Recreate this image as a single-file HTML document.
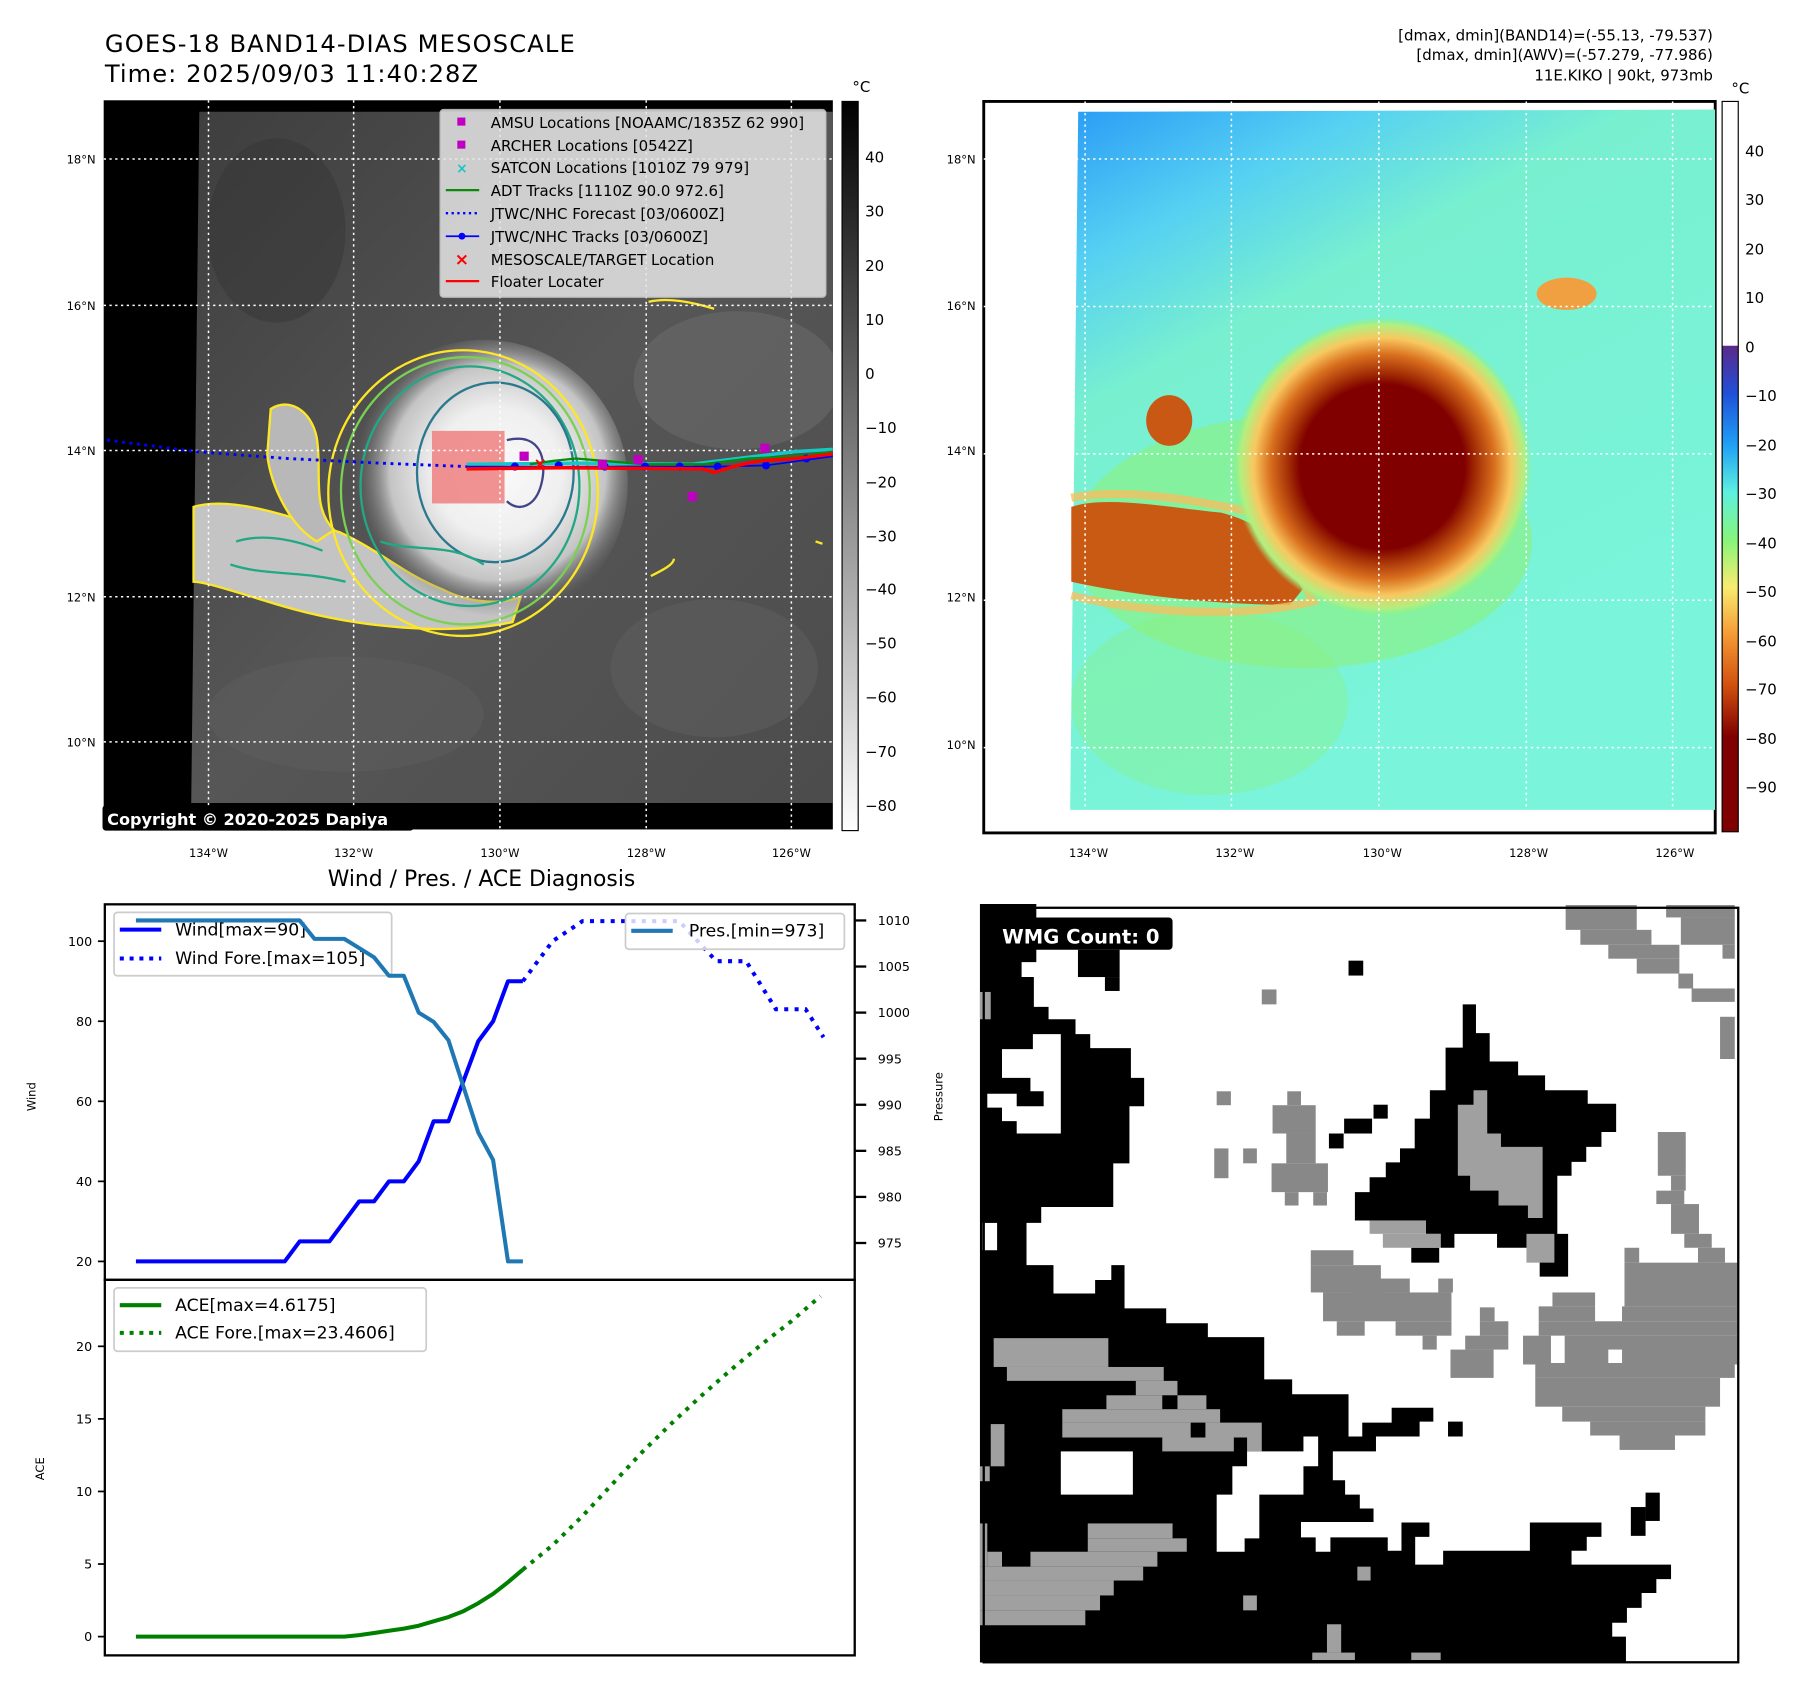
<!DOCTYPE html>
<html><head><meta charset="utf-8"><style>
html,body{margin:0;padding:0;background:#fff;}
svg{display:block;font-family:"DejaVu Sans","Liberation Sans",sans-serif;}
</style></head><body>
<svg id="root" width="1797" height="1690" viewBox="0 0 1560 1467" xmlns="http://www.w3.org/2000/svg">
<defs>
 <linearGradient id="gcb" x1="0" y1="0" x2="0" y2="1"><stop offset="0" stop-color="#000"/><stop offset="1" stop-color="#fff"/></linearGradient>
 <linearGradient id="ccb" x1="0" y1="0" x2="0" y2="1">
  <stop offset="0" stop-color="#fff"/><stop offset="0.334" stop-color="#fff"/>
  <stop offset="0.335" stop-color="#5a2a8a"/><stop offset="0.40" stop-color="#2050d8"/>
  <stop offset="0.47" stop-color="#1fa0f5"/><stop offset="0.535" stop-color="#5ef0e0"/>
  <stop offset="0.60" stop-color="#86f57a"/><stop offset="0.665" stop-color="#f8ec70"/>
  <stop offset="0.73" stop-color="#f59a35"/><stop offset="0.80" stop-color="#d0500e"/>
  <stop offset="0.87" stop-color="#800000"/><stop offset="1" stop-color="#800000"/>
 </linearGradient>
 <radialGradient id="storm" cx="432" cy="410" r="125" gradientUnits="userSpaceOnUse">
  <stop offset="0" stop-color="#fafafa"/><stop offset="0.45" stop-color="#efefef"/>
  <stop offset="0.75" stop-color="#c4c4c4"/><stop offset="1" stop-color="#6a6a6a" stop-opacity="0"/>
 </radialGradient>
 <linearGradient id="bgsat" x1="0" y1="0" x2="1" y2="1">
  <stop offset="0" stop-color="#3e3e3e"/><stop offset="0.5" stop-color="#565656"/><stop offset="1" stop-color="#4c4c4c"/>
 </linearGradient>
 <linearGradient id="rbg" x1="0" y1="0" x2="0.5" y2="1">
  <stop offset="0" stop-color="#2a9cf6"/><stop offset="0.18" stop-color="#55d0f2"/>
  <stop offset="0.35" stop-color="#78f0d0"/><stop offset="1" stop-color="#7af5dc"/>
 </linearGradient>
 <radialGradient id="rstorm" cx="1200" cy="405" r="130" gradientUnits="userSpaceOnUse">
  <stop offset="0" stop-color="#800000"/><stop offset="0.55" stop-color="#800000"/>
  <stop offset="0.62" stop-color="#a02a04"/><stop offset="0.75" stop-color="#d9701e"/>
  <stop offset="0.86" stop-color="#f8c860"/><stop offset="0.95" stop-color="#b0f080"/><stop offset="1" stop-color="#90f080" stop-opacity="0"/>
 </radialGradient>
 <clipPath id="lclip"><rect x="90" y="87" width="633" height="633"/></clipPath>
 <clipPath id="rclip"><rect x="853" y="88" width="636" height="636"/></clipPath>
</defs>

<text x="91" y="45" font-size="21" textLength="408">GOES-18 BAND14-DIAS MESOSCALE</text>
<text x="91" y="71" font-size="21" textLength="324">Time: 2025/09/03 11:40:28Z</text>
<g font-size="13" text-anchor="end">
 <text x="1487" y="35">[dmax, dmin](BAND14)=(-55.13, -79.537)</text>
 <text x="1487" y="52">[dmax, dmin](AWV)=(-57.279, -77.986)</text>
 <text x="1487" y="70">11E.KIKO | 90kt, 973mb</text>
</g>

<!-- LEFT MAP -->
<g>
 <rect x="90" y="87" width="633" height="633" fill="#000"/>
 <g clip-path="url(#lclip)">
  <polygon points="173,97 723,97 723,697 166,697" fill="url(#bgsat)"/>
  <ellipse cx="640" cy="330" rx="90" ry="60" fill="#6e6e6e" opacity="0.5"/>
  <ellipse cx="620" cy="580" rx="90" ry="60" fill="#606060" opacity="0.5"/>
  <ellipse cx="300" cy="620" rx="120" ry="50" fill="#5e5e5e" opacity="0.5"/>
  <ellipse cx="240" cy="200" rx="60" ry="80" fill="#333" opacity="0.4"/>
  <path d="M168,440 C200,430 250,448 295,462 C330,478 350,498 385,512 C405,522 432,526 452,518 L445,540 C390,552 310,545 245,526 C205,514 178,505 168,505 Z" fill="#c4c4c4" stroke="#fde725" stroke-width="2"/>
  <path d="M235,355 C250,345 270,355 275,380 C280,410 270,440 290,460 L275,470 C250,455 235,420 232,395 Z" fill="#b8b8b8" stroke="#fde725" stroke-width="2"/>
  <circle cx="420" cy="420" r="125" fill="url(#storm)"/>
  <ellipse cx="402" cy="428" rx="117" ry="124" fill="none" stroke="#fde725" stroke-width="2"/>
  <ellipse cx="404" cy="426" rx="108" ry="116" fill="none" stroke="#7ad151" stroke-width="2"/>
  <ellipse cx="408" cy="422" rx="95" ry="104" fill="none" stroke="#22a884" stroke-width="2"/>
  <ellipse cx="430" cy="410" rx="68" ry="78" fill="none" stroke="#2a788e" stroke-width="2"/>
  <path d="M205,470 C230,462 260,470 280,478 M200,490 C230,500 260,495 300,505 M330,470 C360,480 390,470 420,490" fill="none" stroke="#22a884" stroke-width="2"/>
  <path d="M440,382 C470,375 475,400 470,420 C465,440 450,445 440,435" fill="none" stroke="#414487" stroke-width="2"/>
  <path d="M565,500 C575,495 585,490 585,485 M708,470 L714,472" fill="none" stroke="#fde725" stroke-width="2"/>
  <path d="M563,262 C580,258 600,262 620,268" fill="none" stroke="#fde725" stroke-width="2"/>
  <rect x="375" y="374" width="63" height="63" fill="#f08080" opacity="0.85"/>
  <g stroke="#fff" stroke-width="1.3" stroke-dasharray="2,3" fill="none">
   <line x1="181" y1="87" x2="181" y2="720"/><line x1="307" y1="87" x2="307" y2="720"/>
   <line x1="434" y1="87" x2="434" y2="720"/><line x1="561" y1="87" x2="561" y2="720"/>
   <line x1="687" y1="87" x2="687" y2="720"/>
   <line x1="90" y1="138" x2="723" y2="138"/><line x1="90" y1="265" x2="723" y2="265"/>
   <line x1="90" y1="391" x2="723" y2="391"/><line x1="90" y1="518" x2="723" y2="518"/>
   <line x1="90" y1="644" x2="723" y2="644"/>
  </g>
  <polyline points="93,382 170,392 250,398 330,402 405,405" fill="none" stroke="#0000ff" stroke-width="2.5" stroke-dasharray="2.5,4"/>
  <polyline points="405,403 500,402 600,403 640,398 690,392 723,390" fill="none" stroke="#17c7c7" stroke-width="3"/>
  <polyline points="460,403 480,400 500,398 560,403 610,403 650,398 690,396 723,392" fill="none" stroke="#0a8a0a" stroke-width="2"/>
  <polyline points="405,405 447,405 490,405 560,405 623,405 665,404 723,396" fill="none" stroke="#0000ff" stroke-width="1.5"/>
  <g fill="#0000ff"><circle cx="447" cy="405" r="3.5"/><circle cx="485" cy="404" r="3.5"/><circle cx="525" cy="405" r="3.5"/><circle cx="560" cy="405" r="3.5"/><circle cx="590" cy="405" r="3.5"/><circle cx="623" cy="405" r="3.5"/><circle cx="665" cy="404" r="3.5"/><circle cx="700" cy="398" r="3.5"/></g>
  <polyline points="405,407 490,406 610,407 620,410 640,404 660,400 690,398 723,394" fill="none" stroke="#ff0000" stroke-width="3"/>
  <g fill="#c000c0"><rect x="451" y="392" width="8" height="8"/><rect x="519" y="399" width="8" height="8"/><rect x="550" y="395" width="8" height="8"/><rect x="597" y="427" width="8" height="8"/><rect x="660" y="385" width="8" height="8"/></g>
  <text x="469" y="407" fill="#f00" font-size="14" font-weight="bold" text-anchor="middle">×</text>
 </g>
 <rect x="89" y="699" width="270" height="22" rx="3" fill="#000"/>
 <text x="93" y="716" fill="#fff" font-size="14" font-weight="bold">Copyright © 2020-2025 Dapiya</text>
 <g>
  <rect x="382" y="95" width="335" height="163" rx="3" fill="#e6e6e6" opacity="0.85" stroke="#ccc"/>
  <g font-size="13">
   <rect x="397" y="102" width="7" height="7" fill="#c000c0"/><text x="426" y="111">AMSU Locations [NOAAMC/1835Z 62 990]</text>
   <rect x="397" y="122" width="7" height="7" fill="#c000c0"/><text x="426" y="131">ARCHER Locations [0542Z]</text>
   <text x="401" y="150" fill="#17c7c7" font-size="12" text-anchor="middle" font-weight="bold">×</text><text x="426" y="150">SATCON Locations [1010Z 79 979]</text>
   <line x1="387" y1="165" x2="416" y2="165" stroke="#0a8a0a" stroke-width="2"/><text x="426" y="170">ADT Tracks [1110Z 90.0 972.6]</text>
   <line x1="387" y1="185" x2="416" y2="185" stroke="#0000ff" stroke-width="2" stroke-dasharray="2,3"/><text x="426" y="190">JTWC/NHC Forecast [03/0600Z]</text>
   <line x1="387" y1="205" x2="416" y2="205" stroke="#0000ff" stroke-width="1.5"/><circle cx="401" cy="205" r="3" fill="#0000ff"/><text x="426" y="210">JTWC/NHC Tracks [03/0600Z]</text>
   <text x="401" y="230" fill="#f00" font-size="15" text-anchor="middle" font-weight="bold">×</text><text x="426" y="230">MESOSCALE/TARGET Location</text>
   <line x1="387" y1="244" x2="416" y2="244" stroke="#f00" stroke-width="2"/><text x="426" y="249">Floater Locater</text>
  </g>
 </g>
 <g font-size="10" text-anchor="end">
  <text x="83" y="142">18°N</text><text x="83" y="269">16°N</text><text x="83" y="395">14°N</text><text x="83" y="522">12°N</text><text x="83" y="648">10°N</text>
 </g>
 <g font-size="10" text-anchor="middle">
  <text x="181" y="744">134°W</text><text x="307" y="744">132°W</text><text x="434" y="744">130°W</text><text x="561" y="744">128°W</text><text x="687" y="744">126°W</text>
 </g>
 <g>
  <rect x="731" y="88" width="14" height="633" fill="url(#gcb)" stroke="#000" stroke-width="1"/>
  <text x="740" y="80" font-size="13">°C</text>
  <g font-size="13">
   <text x="751" y="141">40</text><text x="751" y="188">30</text><text x="751" y="235">20</text><text x="751" y="282">10</text><text x="751" y="329">0</text>
   <text x="751" y="376">−10</text><text x="751" y="423">−20</text><text x="751" y="470">−30</text><text x="751" y="516">−40</text><text x="751" y="563">−50</text>
   <text x="751" y="610">−60</text><text x="751" y="657">−70</text><text x="751" y="704">−80</text>
  </g>
 </g>
</g>

<!-- RIGHT MAP -->
<g>
 <rect x="854" y="88" width="635" height="635" fill="#fff" stroke="#000" stroke-width="2.5"/>
 <g clip-path="url(#rclip)">
  <polygon points="936,97 1489,95 1489,703 929,703" fill="url(#rbg)"/>
  <ellipse cx="1130" cy="470" rx="200" ry="110" fill="#8cf27c" opacity="0.6"/>
  <ellipse cx="1050" cy="610" rx="120" ry="80" fill="#8cf27c" opacity="0.35"/>
  <path d="M930,440 C960,430 1010,440 1060,445 C1100,455 1120,480 1140,500 L1120,525 C1060,525 990,518 930,505 Z" fill="#c85a14"/>
  <path d="M930,432 C980,422 1050,437 1100,447 L1140,522 C1080,537 990,532 930,517" fill="none" stroke="#f5c060" stroke-width="7" opacity="0.8"/>
  <ellipse cx="1015" cy="365" rx="20" ry="22" fill="#c95814"/>
  <circle cx="1200" cy="405" r="130" fill="url(#rstorm)"/>
  <ellipse cx="1360" cy="255" rx="26" ry="14" fill="#f0a040"/>
  <g stroke="#fff" stroke-width="1.3" stroke-dasharray="2,3" fill="none">
   <line x1="942" y1="88" x2="942" y2="723"/><line x1="1069" y1="88" x2="1069" y2="723"/>
   <line x1="1197" y1="88" x2="1197" y2="723"/><line x1="1325" y1="88" x2="1325" y2="723"/>
   <line x1="1452" y1="88" x2="1452" y2="723"/>
   <line x1="854" y1="138" x2="1489" y2="138"/><line x1="854" y1="266" x2="1489" y2="266"/>
   <line x1="854" y1="394" x2="1489" y2="394"/><line x1="854" y1="521" x2="1489" y2="521"/>
   <line x1="854" y1="649" x2="1489" y2="649"/>
  </g>
 </g>
 <g font-size="10" text-anchor="end">
  <text x="847" y="142">18°N</text><text x="847" y="269">16°N</text><text x="847" y="395">14°N</text><text x="847" y="522">12°N</text><text x="847" y="650">10°N</text>
 </g>
 <g font-size="10" text-anchor="middle">
  <text x="945" y="744">134°W</text><text x="1072" y="744">132°W</text><text x="1200" y="744">130°W</text><text x="1327" y="744">128°W</text><text x="1454" y="744">126°W</text>
 </g>
 <g>
  <rect x="1495" y="88" width="14" height="634" fill="url(#ccb)" stroke="#000" stroke-width="1"/>
  <text x="1503" y="81" font-size="13">°C</text>
  <g font-size="13">
   <text x="1515" y="136">40</text><text x="1515" y="178">30</text><text x="1515" y="221">20</text><text x="1515" y="263">10</text><text x="1515" y="306">0</text>
   <text x="1515" y="348">−10</text><text x="1515" y="391">−20</text><text x="1515" y="433">−30</text><text x="1515" y="476">−40</text><text x="1515" y="518">−50</text>
   <text x="1515" y="561">−60</text><text x="1515" y="603">−70</text><text x="1515" y="646">−80</text><text x="1515" y="688">−90</text>
  </g>
 </g>
</g>

<!-- WMG GRID -->
<g>
 <rect x="854" y="788" width="655" height="655" fill="#fff"/>
 <g transform="translate(850.7,781.3) scale(0.4255,0.4312)">
  <polygon fill="#000" points="0,8 115,8 115,125 85,125 85,155 110,155 110,215 140,215 140,240 195,240 195,270 225,270 225,298 308,298 308,358 335,358 335,415 305,415 305,530 272,530 272,618 125,618 125,650 95,650 95,735 150,735 150,792 235,792 235,765 268,765 268,735 295,735 295,822 380,822 380,852 465,852 465,880 580,880 580,965 637,965 637,995 752,995 752,1080 780,1080 780,1052 840,1052 840,1022 925,1022 925,1050 897,1050 897,1080 808,1080 808,1110 720,1110 720,1168 745,1168 745,1197 775,1197 775,1225 803,1225 803,1252 655,1252 655,1283 685,1283 685,1312 715,1312 715,1283 832,1283 832,1310 860,1310 860,1253 917,1253 917,1282 888,1282 888,1338 945,1338 945,1310 1122,1310 1122,1253 1268,1253 1268,1282 1238,1282 1238,1310 1207,1310 1207,1338 1410,1338 1410,1367 1380,1367 1380,1395 1350,1395 1350,1425 1320,1425 1320,1455 1290,1455 1290,1483 1318,1483 1318,1535 0,1535"/>
  <polygon fill="#fff" points="108,270 165,270 165,470 75,470 75,445 45,445 45,418 15,418 15,390 75,390 75,415 130,415 130,385 103,385 103,358 45,358 45,300 108,300"/>
  <rect x="5" y="650" width="30" height="55" fill="#fff"/>
  <rect x="165" y="1110" width="147" height="87" fill="#fff"/>
  <polygon fill="#fff" points="545,1110 660,1110 660,1080 690,1080 690,1140 660,1140 660,1197 570,1197 570,1285 540,1285 540,1312 483,1312 483,1197 515,1197 515,1140 545,1140"/>
  <rect x="200" y="100" width="85" height="55" fill="#000"/><rect x="255" y="155" width="30" height="28" fill="#000"/>
  <polygon fill="#000" points="985,210 1012,210 1012,268 1040,268 1040,325 1098,325 1098,353 1153,353 1153,383 1240,383 1240,410 1298,410 1298,467 1268,467 1268,497 1237,497 1237,527 1207,527 1207,555 1178,555 1178,672 1200,672 1200,758 1142,758 1142,700 1055,700 1055,672 968,672 968,700 940,700 940,672 910,672 910,645 765,645 765,588 795,588 795,558 828,558 828,528 857,528 857,500 887,500 887,440 918,440 918,383 950,383 950,297 985,297"/>
  <g fill="#000">
   <rect x="880" y="700" width="57" height="30"/><rect x="752" y="122" width="30" height="30"/><rect x="803" y="412" width="29" height="28"/>
   <rect x="743" y="440" width="57" height="30"/><rect x="712" y="470" width="30" height="30"/><rect x="955" y="1050" width="30" height="30"/>
   <rect x="1358" y="1193" width="29" height="57"/><rect x="1328" y="1222" width="30" height="58"/><rect x="430" y="1052" width="30" height="30"/><rect x="372" y="995" width="31" height="30"/>
  </g>
  <g fill="#a0a0a0">
   <polygon points="1007,383 1035,383 1035,470 1063,470 1063,497 1148,497 1148,640 1118,640 1118,615 1058,615 1058,585 1000,585 1000,555 975,555 975,412 1007,412"/>
   <rect x="1115" y="672" width="57" height="58"/>
   <rect x="28" y="882" width="234" height="58"/><rect x="55" y="940" width="320" height="28"/><rect x="318" y="968" width="85" height="29"/>
   <rect x="258" y="997" width="114" height="28"/><rect x="403" y="997" width="59" height="28"/><rect x="168" y="1025" width="322" height="27"/>
   <rect x="168" y="1052" width="262" height="30"/><rect x="460" y="1052" width="115" height="30"/><rect x="372" y="1082" width="146" height="28"/><rect x="545" y="1082" width="30" height="28"/>
   <rect x="220" y="1255" width="173" height="30"/><rect x="220" y="1285" width="202" height="27"/><rect x="103" y="1312" width="259" height="30"/>
   <rect x="0" y="1342" width="333" height="28"/><rect x="0" y="1370" width="273" height="30"/><rect x="0" y="1400" width="245" height="30"/><rect x="0" y="1430" width="215" height="30"/>
   <rect x="0" y="1255" width="15" height="87"/><rect x="15" y="1312" width="30" height="30"/>
   <rect x="22" y="1055" width="28" height="85"/><rect x="0" y="1140" width="20" height="30"/><rect x="0" y="185" width="22" height="55"/>
   <rect x="795" y="645" width="115" height="27"/><rect x="822" y="672" width="118" height="28"/>
   <rect x="708" y="1458" width="29" height="57"/><rect x="678" y="1515" width="87" height="15"/><rect x="880" y="1515" width="60" height="15"/>
   <rect x="770" y="1342" width="27" height="28"/><rect x="537" y="1400" width="28" height="30"/>
  </g>
  <g fill="#888">
   <rect x="1195" y="10" width="145" height="50"/><rect x="1225" y="60" width="145" height="30"/><rect x="1282" y="90" width="145" height="28"/>
   <rect x="1340" y="118" width="87" height="30"/><rect x="1425" y="148" width="30" height="30"/><rect x="1452" y="178" width="88" height="27"/>
   <rect x="1400" y="10" width="140" height="25"/><rect x="1430" y="35" width="110" height="55"/><rect x="1515" y="90" width="25" height="28"/><rect x="1510" y="235" width="30" height="85"/>
   <rect x="575" y="180" width="30" height="30"/><rect x="483" y="385" width="29" height="28"/><rect x="478" y="500" width="29" height="60"/><rect x="537" y="500" width="28" height="30"/>
   <rect x="627" y="385" width="28" height="28"/><rect x="597" y="413" width="88" height="57"/><rect x="625" y="470" width="60" height="60"/>
   <rect x="595" y="530" width="115" height="58"/><rect x="622" y="588" width="28" height="27"/><rect x="680" y="588" width="28" height="27"/>
   <rect x="675" y="705" width="87" height="30"/><rect x="675" y="735" width="143" height="55"/><rect x="700" y="790" width="262" height="58"/>
   <rect x="728" y="848" width="57" height="29"/><rect x="848" y="848" width="114" height="29"/><rect x="903" y="877" width="29" height="28"/>
   <rect x="760" y="762" width="117" height="28"/><rect x="935" y="762" width="30" height="28"/>
   <rect x="1020" y="820" width="30" height="28"/><rect x="1020" y="848" width="58" height="29"/><rect x="990" y="877" width="88" height="28"/><rect x="960" y="905" width="88" height="57"/>
   <rect x="1383" y="467" width="57" height="88"/><rect x="1410" y="555" width="30" height="30"/><rect x="1380" y="585" width="57" height="27"/>
   <rect x="1410" y="612" width="57" height="60"/><rect x="1437" y="672" width="56" height="28"/><rect x="1315" y="700" width="30" height="30"/><rect x="1465" y="700" width="55" height="30"/>
   <rect x="1315" y="730" width="230" height="88"/><rect x="1168" y="790" width="87" height="28"/><rect x="1140" y="818" width="115" height="30"/><rect x="1310" y="818" width="235" height="30"/>
   <rect x="1140" y="848" width="405" height="29"/><rect x="1108" y="877" width="437" height="58"/>
   <rect x="1133" y="935" width="407" height="27"/><rect x="1133" y="962" width="377" height="58"/><rect x="1188" y="1020" width="292" height="30"/>
   <rect x="1245" y="1050" width="235" height="28"/><rect x="1305" y="1078" width="113" height="29"/>
  </g>
  <rect x="1165" y="877" width="28" height="55" fill="#fff"/><rect x="1282" y="905" width="28" height="27" fill="#fff"/>
  <rect x="5" y="35" width="388" height="65" rx="8" fill="#000"/>
 </g>
 <text x="870" y="819" fill="#fff" font-size="17" font-weight="bold">WMG Count: 0</text>
 <rect x="854" y="788" width="655" height="655" fill="none" stroke="#000" stroke-width="2"/>
</g>

<!-- DIAGNOSIS CHART -->
<g id="diag">
 <text x="418" y="769" font-size="19" text-anchor="middle">Wind / Pres. / ACE Diagnosis</text>
 <rect x="91" y="785" width="651" height="326" fill="none" stroke="#000" stroke-width="2"/>
 <rect x="91" y="1111" width="651" height="326" fill="none" stroke="#000" stroke-width="2"/>
 <text transform="translate(31,952) rotate(-90)" font-size="10" text-anchor="middle">Wind</text>
 <text transform="translate(38,1275) rotate(-90)" font-size="10" text-anchor="middle">ACE</text>
 <text transform="translate(818,952) rotate(-90)" font-size="10" text-anchor="middle">Pressure</text>
 <g id="windmarks"></g>
 <g>
  <rect x="99" y="792" width="241" height="55" rx="3" fill="#fff" fill-opacity="0.8" stroke="#ccc" stroke-width="1.5"/>
  <line x1="104" y1="807" x2="140" y2="807" stroke="#0000ff" stroke-width="3.5"/>
  <text x="152" y="812" font-size="15">Wind[max=90]</text>
  <line x1="104" y1="832" x2="140" y2="832" stroke="#0000ff" stroke-width="3.5" stroke-dasharray="3.5,5"/>
  <text x="152" y="837" font-size="15">Wind Fore.[max=105]</text>
 </g>
 <g id="presmarks"></g>
 <g>
  <rect x="543" y="793" width="190" height="31" rx="3" fill="#fff" fill-opacity="0.8" stroke="#ccc" stroke-width="1.5"/>
  <line x1="548" y1="808" x2="584" y2="808" stroke="#1f77b4" stroke-width="3.5"/>
  <text x="598" y="813" font-size="15">Pres.[min=973]</text>
 </g>
 <g id="acemarks"></g>
 <g>
  <rect x="99" y="1118" width="271" height="55" rx="3" fill="#fff" fill-opacity="0.8" stroke="#ccc" stroke-width="1.5"/>
  <line x1="104" y1="1133" x2="140" y2="1133" stroke="#008000" stroke-width="3.5"/>
  <text x="152" y="1138" font-size="15">ACE[max=4.6175]</text>
  <line x1="104" y1="1157" x2="140" y2="1157" stroke="#008000" stroke-width="3.5" stroke-dasharray="3.5,5"/>
  <text x="152" y="1162" font-size="15">ACE Fore.[max=23.4606]</text>
 </g>
</g>

<script>
const windVals = [20,20,20,20,20,20,20,20,20,20,20,25,25,25,30,35,35,40,40,45,55,55,65,75,80,90,90];
const windForeIdx = [26,28,30,32,34,36.5,39,41,43,45,46.2];
const windForeVals = [90,100,105,105,105,105,95,95,83,83,76];
const presVals = [1010,1010,1010,1010,1010,1010,1010,1010,1010,1010,1010,1010,1008,1008,1008,1007,1006,1004,1004,1000,999,997,992,987,984,973,973];
const aceVals = [0,0,0,0,0,0,0,0,0,0,0,0,0,0,0,0.1,0.25,0.4,0.55,0.75,1.05,1.35,1.75,2.3,2.95,3.75,4.62];
const aceForeIdx = [26,28,30,32,34,36,38,40,42,44,46];
const aceForeVals = [4.62,6.3,8.3,10.5,12.7,14.7,16.6,18.4,20.1,21.7,23.46];
const windTicks = [20,40,60,80,100];
const presTicks = [975,980,985,990,995,1000,1005,1010];
const aceTicks = [0,5,10,15,20];

const NS = 'http://www.w3.org/2000/svg';
const xOf = i => 118 + i * 12.92;
const yW = v => 1095 - (v - 20) * 3.475;
const yP = p => 799 + (1010 - p) * 8.0;
const yA = a => 1420.7 - a * 12.6;
const diag = document.getElementById('diag');
const windG = document.getElementById('windmarks');
const presG = document.getElementById('presmarks');
const aceG = document.getElementById('acemarks');

function mk(tag, attrs, parent) {
  const el = document.createElementNS(NS, tag);
  for (const k in attrs) el.setAttribute(k, attrs[k]);
  parent.appendChild(el);
  return el;
}
function pts(xs, ys) { return xs.map((x, k) => x + ',' + ys[k]).join(' '); }

windTicks.forEach(v => {
  const t = mk('line', {x1: 85, x2: 91, y1: yW(v), y2: yW(v), stroke: '#000', 'stroke-width': 1.5}, diag);
  
  
  const l = mk('text', {x: 80, y: yW(v) + 4, 'font-size': 11, 'text-anchor': 'end'}, diag);
  l.textContent = v;
  
  
});
presTicks.forEach(p => {
  const t = mk('line', {x1: 742, x2: 752, y1: yP(p), y2: yP(p), stroke: '#000', 'stroke-width': 2}, diag);
  
  
  const l = mk('text', {x: 762, y: yP(p) + 4, 'font-size': 11}, diag);
  l.textContent = p;
  
  
});
aceTicks.forEach(a => {
  const t = mk('line', {x1: 85, x2: 91, y1: yA(a), y2: yA(a), stroke: '#000', 'stroke-width': 1.5}, diag);
  
  
  const l = mk('text', {x: 80, y: yA(a) + 4, 'font-size': 11, 'text-anchor': 'end'}, diag);
  l.textContent = a;
  
  
});

const idx = windVals.map((_, i) => i);
const wind = mk('polyline', {points: pts(idx.map(xOf), windVals.map(yW)), fill: 'none', stroke: '#0000ff', 'stroke-width': 3.5, 'stroke-linejoin': 'round'}, windG);


const windF = mk('polyline', {points: pts(windForeIdx.map(xOf), windForeVals.map(yW)), fill: 'none', stroke: '#0000ff', 'stroke-width': 3.5, 'stroke-dasharray': '3.5,5.5'}, windG);


const pres = mk('polyline', {points: pts(idx.map(xOf), presVals.map(yP)), fill: 'none', stroke: '#1f77b4', 'stroke-width': 3.5, 'stroke-linejoin': 'round'}, presG);


const ace = mk('polyline', {points: pts(idx.map(xOf), aceVals.map(yA)), fill: 'none', stroke: '#008000', 'stroke-width': 3.5, 'stroke-linejoin': 'round'}, aceG);


const aceF = mk('polyline', {points: pts(aceForeIdx.map(xOf), aceForeVals.map(yA)), fill: 'none', stroke: '#008000', 'stroke-width': 3.5, 'stroke-dasharray': '3.5,5.5'}, aceG);


</script>
</svg>
</body></html>
